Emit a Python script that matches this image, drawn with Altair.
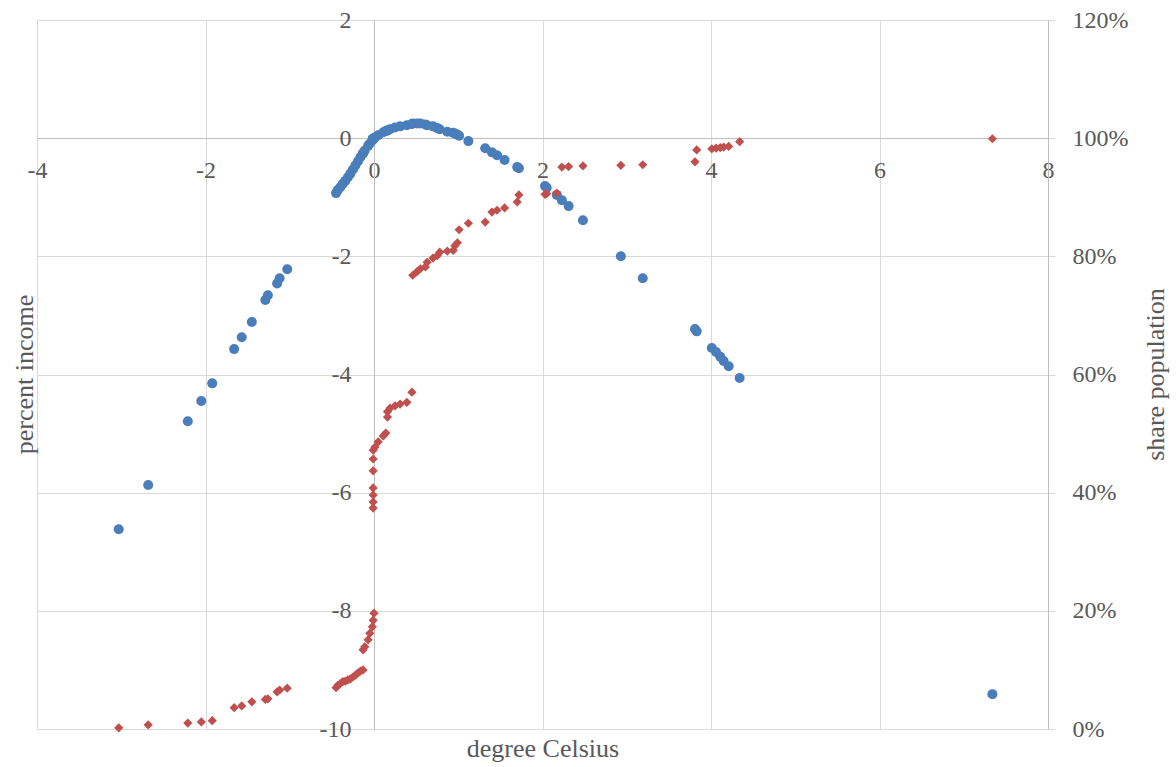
import altair as alt
import pandas as pd

# temperature change (degree Celsius)
x_vals = [-3.03, -2.68, -2.21, -2.05, -1.92, -1.66, -1.57, -1.45, -1.29, -1.26, -1.15, -1.12, -1.03,
          -0.45, -0.43, -0.40, -0.37, -0.34, -0.31, -0.28, -0.25, -0.22, -0.19, -0.16, -0.13, -0.13,
          -0.11, -0.07, -0.05, -0.02, -0.01, 0.00,
          -0.01, -0.01, -0.01, -0.01, -0.01, -0.01, -0.01, 0.01,
          0.05, 0.11, 0.14, 0.16, 0.16, 0.19, 0.25, 0.31, 0.39, 0.45,
          0.46, 0.51, 0.55, 0.61, 0.63, 0.70, 0.75, 0.78, 0.87, 0.94, 0.96, 0.99, 1.01, 1.12,
          1.32, 1.40, 1.46, 1.55, 1.70, 1.72,
          2.03, 2.05, 2.17, 2.23, 2.31, 2.48, 2.93, 3.19, 3.81, 3.83, 4.01, 4.06, 4.11, 4.15, 4.21, 4.34, 7.34]

# percent income (left axis)
income_vals = [-6.62, -5.87, -4.79, -4.45, -4.15, -3.57, -3.37, -3.11, -2.74, -2.66, -2.46, -2.37, -2.22,
               -0.93, -0.88, -0.83, -0.77, -0.72, -0.66, -0.60, -0.53, -0.46, -0.39, -0.32, -0.26, -0.25,
               -0.21, -0.13, -0.09, -0.04, -0.02, 0.00,
               -0.01, -0.01, -0.01, -0.01, -0.01, -0.01, -0.01, 0.01,
               0.05, 0.10, 0.12, 0.13, 0.13, 0.15, 0.18, 0.20, 0.22, 0.24,
               0.25, 0.25, 0.25, 0.23, 0.22, 0.20, 0.17, 0.15, 0.11, 0.09, 0.08, 0.06, 0.04, -0.05,
               -0.17, -0.24, -0.29, -0.37, -0.49, -0.51,
               -0.81, -0.84, -0.96, -1.05, -1.15, -1.39, -2.00, -2.37, -3.23, -3.27, -3.55, -3.62, -3.70,
               -3.77, -3.86, -4.06, -9.41]

# share population, percent (right axis)
share_vals = [0.2, 0.7, 1.0, 1.2, 1.4, 3.6, 3.9, 4.6, 5.0, 5.1, 6.3, 6.6, 6.9,
              7.0, 7.4, 7.7, 8.0, 8.1, 8.3, 8.5, 8.8, 9.1, 9.5, 9.8, 10.0, 13.4,
              13.9, 15.1, 16.2, 17.3, 18.4, 19.6,
              37.4, 38.4, 39.6, 40.8, 43.7, 45.7, 47.2, 47.7,
              48.6, 49.6, 50.1, 52.8, 53.7, 54.3, 54.7, 55.0, 55.3, 57.0,
              76.8, 77.4, 77.9, 78.2, 79.0, 79.7, 80.1, 80.7, 80.9, 81.0, 81.8, 82.3, 84.5, 85.6,
              85.8, 87.5, 87.8, 88.2, 89.2, 90.4,
              90.5, 90.6, 90.7, 95.1, 95.2, 95.3, 95.4, 95.5, 96.0, 98.0, 98.2, 98.3, 98.4,
              98.5, 98.6, 99.4, 99.9]

x_ticks = [-4, -2, 0, 2, 4, 6, 8]
left_ticks = [-10, -8, -6, -4, -2, 0, 2]
right_ticks = [0, 0.2, 0.4, 0.6, 0.8, 1.0, 1.2]

df = pd.DataFrame({"x": x_vals, "income": income_vals,
                   "share": [v / 100 for v in share_vals]})

FONT = "Liberation Serif"
LABEL = "#595959"
GRID = "#d9d9d9"
AXISC = "#bfbfbf"
HYPHEN = "datum.value < 0 ? '-' + abs(datum.value) : '' + datum.value"

xscale = alt.Scale(domain=[-4, 8], nice=False, zero=False)
xaxis = alt.Axis(values=x_ticks, grid=True, gridColor=GRID, domainColor=AXISC,
                 ticks=False, offset=-591, labelPadding=20, labelFlush=False,
                 labelOverlap=False, labelExpr=HYPHEN, title="degree Celsius", titleY=610,
                 titleBaseline="middle")

blue = alt.Chart(df).mark_point(shape="circle", filled=True, size=100,
                                color="#4A7EBB", opacity=1).encode(
    x=alt.X("x:Q", scale=xscale, axis=xaxis),
    y=alt.Y("income:Q", scale=alt.Scale(domain=[-10, 2], nice=False, zero=False),
            axis=alt.Axis(values=left_ticks, orient="left", offset=-337, grid=True,
                          gridColor=GRID, domainColor=AXISC, ticks=False,
                          labelPadding=23, labelFlush=False, labelOverlap=False,
                          labelExpr=HYPHEN,
                          title="percent income", titleX=-350, titleY=354,
                          titleAngle=270, titleBaseline="middle", titleAlign="center")),
)

red = alt.Chart(df).mark_point(shape="diamond", filled=True, size=85,
                               color="#C0504D", opacity=1).encode(
    x=alt.X("x:Q", scale=xscale, axis=xaxis),
    y=alt.Y("share:Q", scale=alt.Scale(domain=[0, 1.2], nice=False, zero=False),
            axis=alt.Axis(values=right_ticks, orient="right", format="%", grid=False,
                          ticks=True, tickSize=7, tickColor=GRID, domainColor=AXISC,
                          labelPadding=17, labelFlush=False, labelOverlap=False,
                          title="share population", titleX=107, titleY=354,
                          titleAngle=270, titleBaseline="middle", titleAlign="center")),
)

chart = alt.layer(blue, red).resolve_scale(y="independent").properties(
    width=1011, height=709,
    autosize=alt.AutoSizeParams(type="none"),
    padding={"left": 37, "top": 20, "right": 128, "bottom": 38},
).configure_view(stroke=None).configure_axis(
    labelFont=FONT, titleFont=FONT, labelFontSize=24, titleFontSize=26,
    labelColor=LABEL, titleColor=LABEL, titleFontWeight="normal",
)

chart.save("out.html", embed_options={"renderer": "svg", "actions": False})
